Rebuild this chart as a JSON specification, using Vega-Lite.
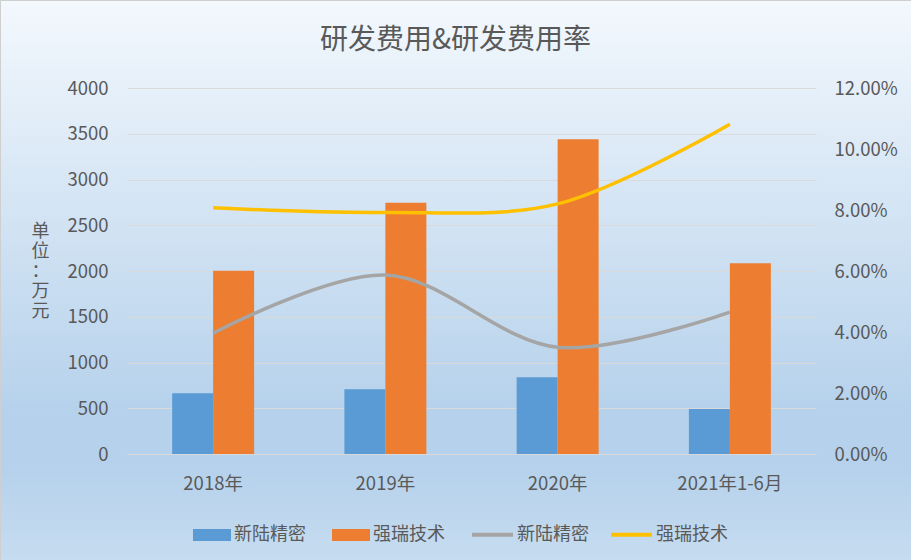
{
  "$schema": "https://vega.github.io/schema/vega-lite/v6.json",
  "width": 911,
  "height": 560,
  "autosize": "none",
  "padding": 0,
  "background": "#d3e3f4",
  "title": {
    "text": "研发费用&研发费用率",
    "fontSize": 28,
    "font": "Noto Sans CJK SC",
    "fontWeight": "normal",
    "color": "#595959",
    "anchor": "middle",
    "baseline": "middle",
    "offset": -69
  },
  "datasets": {
    "fees": [
      {"year": "2018年", "company": "新陆精密", "fee": 663},
      {"year": "2018年", "company": "强瑞技术", "fee": 2003},
      {"year": "2019年", "company": "新陆精密", "fee": 707},
      {"year": "2019年", "company": "强瑞技术", "fee": 2747},
      {"year": "2020年", "company": "新陆精密", "fee": 838},
      {"year": "2020年", "company": "强瑞技术", "fee": 3439},
      {"year": "2021年1-6月", "company": "新陆精密", "fee": 492},
      {"year": "2021年1-6月", "company": "强瑞技术", "fee": 2084}
    ],
    "rates": [
      {"year": "2018年", "series": "新陆精密", "rate": 0.0396},
      {"year": "2019年", "series": "新陆精密", "rate": 0.0587},
      {"year": "2020年", "series": "新陆精密", "rate": 0.0350},
      {"year": "2021年1-6月", "series": "新陆精密", "rate": 0.0465},
      {"year": "2018年", "series": "强瑞技术", "rate": 0.0807},
      {"year": "2019年", "series": "强瑞技术", "rate": 0.0792},
      {"year": "2020年", "series": "强瑞技术", "rate": 0.0820},
      {"year": "2021年1-6月", "series": "强瑞技术", "rate": 0.1081}
    ]
  },
  "encoding": {
    "x": {
      "field": "year",
      "type": "nominal",
      "sort": null,
      "scale": {"range": [127, 816], "paddingInner": 0.524, "paddingOuter": 0.262},
      "axis": {
        "title": null,
        "orient": "bottom",
        "offset": -106,
        "domain": false,
        "ticks": false,
        "tickSize": 0,
        "labelPadding": 20,
        "labelAngle": 0,
        "labelFontSize": 18.5,
        "labelColor": "#595959",
        "labelFont": "Noto Sans CJK SC"
      }
    }
  },
  "layer": [
    {
      "data": {"name": "fees"},
      "mark": {"type": "bar"},
      "encoding": {
        "xOffset": {"field": "company", "type": "nominal", "scale": {"domain": ["新陆精密", "强瑞技术"], "paddingInner": 0, "paddingOuter": 0}},
        "y": {
          "field": "fee",
          "type": "quantitative",
          "scale": {"domain": [0, 4000], "range": [454, 88], "nice": false},
          "axis": {
            "orient": "left",
            "values": [0, 500, 1000, 1500, 2000, 2500, 3000, 3500, 4000],
            "format": "d",
            "offset": -108,
            "domain": false,
            "ticks": false,
            "tickSize": 0,
            "labelPadding": 0,
            "labelFontSize": 18.5,
            "labelColor": "#595959",
            "labelFont": "Noto Sans CJK SC",
            "grid": true,
            "gridColor": "#d9d9d9",
            "gridWidth": 1,
            "title": ["单", "位", "：", "万", "元"],
            "titleAngle": 0,
            "titleAlign": "center",
            "titleBaseline": "top",
            "titleX": -68,
            "titleY": 222,
            "titleFontSize": 18,
            "titleLineHeight": 20,
            "titleFontWeight": "normal",
            "titleColor": "#595959",
            "titleFont": "Noto Sans CJK SC"
          }
        },
        "fill": {
          "field": "company",
          "type": "nominal",
          "scale": {"domain": ["新陆精密", "强瑞技术"], "range": ["#5b9bd5", "#ed7d31"]},
          "legend": {
            "orient": "none",
            "legendX": 193,
            "legendY": 516,
            "direction": "horizontal",
            "title": null,
            "symbolType": "M-1,-0.316H1V0.316H-1Z",
            "symbolSize": 1444,
            "symbolStrokeWidth": 0,
            "symbolOffset": 0,
            "labelOffset": 3,
            "columnPadding": 26,
            "labelFontSize": 18,
            "labelColor": "#595959",
            "labelFont": "Noto Sans CJK SC"
          }
        }
      }
    },
    {
      "data": {"name": "rates"},
      "mark": {"type": "line", "interpolate": "catmull-rom", "strokeWidth": 3.5},
      "encoding": {
        "y": {
          "field": "rate",
          "type": "quantitative",
          "scale": {"domain": [0, 0.12], "range": [454, 88], "nice": false},
          "axis": {
            "orient": "right",
            "values": [0, 0.02, 0.04, 0.06, 0.08, 0.1, 0.12],
            "format": ".2%",
            "offset": -77,
            "domain": false,
            "ticks": false,
            "tickSize": 0,
            "labelPadding": 0,
            "labelFontSize": 18.5,
            "labelColor": "#595959",
            "labelFont": "Noto Sans CJK SC",
            "grid": false,
            "title": null
          }
        },
        "stroke": {
          "field": "series",
          "type": "nominal",
          "sort": null,
          "scale": {"range": ["#a5a5a5", "#ffc000"]},
          "legend": {
            "orient": "none",
            "legendX": 470,
            "legendY": 512,
            "direction": "horizontal",
            "title": null,
            "symbolType": "stroke",
            "symbolSize": 1681,
            "symbolStrokeWidth": 4,
            "labelOffset": 2,
            "columnPadding": 14,
            "labelFontSize": 18,
            "labelColor": "#595959",
            "labelFont": "Noto Sans CJK SC"
          }
        }
      }
    }
  ],
  "resolve": {"scale": {"y": "independent"}},
  "config": {
    "font": "Noto Sans CJK SC",
    "view": {
      "stroke": "#cfcfcf",
      "fill": {
        "gradient": "linear",
        "x1": 0, "y1": 0, "x2": 0, "y2": 1,
        "stops": [
          {"offset": 0, "color": "#f3f8fd"},
          {"offset": 0.74, "color": "#b5d1eb"},
          {"offset": 0.83, "color": "#b5d1eb"},
          {"offset": 1, "color": "#c6dcf0"}
        ]
      }
    }
  }
}
